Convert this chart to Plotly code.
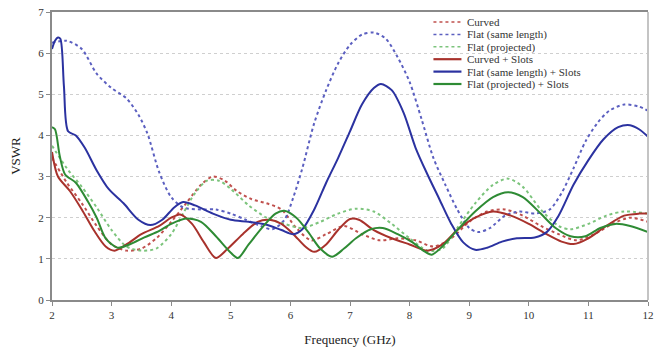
import plotly.graph_objects as go

# ---- Data ----
curved_f = [2.0, 2.25, 2.5, 2.75, 3.0, 3.25, 3.5, 3.75, 4.0, 4.25, 4.5, 4.7, 4.9, 5.1, 5.35, 5.6, 5.85,
            6.1, 6.35, 6.6, 6.9, 7.2, 7.5, 7.8, 8.1, 8.4, 8.7, 9.0, 9.3, 9.6, 9.9, 10.2, 10.5, 10.8,
            11.1, 11.4, 11.7, 12.0]
curved_v = [3.45, 2.85, 2.35, 1.8, 1.35, 1.2, 1.25, 1.5, 1.9, 2.35, 2.8, 3.0, 2.9, 2.65, 2.45, 2.35, 2.2,
            1.75, 1.45, 1.6, 1.8, 1.6, 1.45, 1.5, 1.45, 1.3, 1.5, 1.9, 2.15, 2.2, 2.05, 1.8, 1.6, 1.45,
            1.6, 1.85, 2.0, 1.9]

flat_same_f = [2.0, 2.25, 2.5, 2.75, 3.0, 3.25, 3.45, 3.6, 3.8, 4.0, 4.2, 4.5, 4.75, 5.0, 5.25, 5.5, 5.7,
               5.9, 6.05, 6.2, 6.4, 6.6, 6.8, 7.0, 7.2, 7.4, 7.6, 7.8, 8.0, 8.2, 8.4, 8.6, 8.8, 9.0,
               9.15, 9.35, 9.6, 9.85, 10.1, 10.35, 10.55, 10.75, 10.95, 11.15, 11.35, 11.6, 11.85, 12.0]
flat_same_v = [6.25, 6.3, 6.1, 5.5, 5.15, 4.9, 4.5, 4.05, 3.1, 2.5, 2.25, 2.2, 2.2, 2.1, 1.95, 1.8, 1.72,
               1.95, 2.5, 3.2, 4.3, 5.1, 5.75, 6.2, 6.45, 6.5, 6.35, 5.9, 5.3, 4.4, 3.45, 2.8, 2.2, 1.75,
               1.65, 1.75, 2.05, 2.15, 2.1, 2.2, 2.6, 3.2, 3.85, 4.3, 4.6, 4.75, 4.7, 4.6]

flat_proj_f = [2.0, 2.25, 2.5, 2.75, 3.0, 3.25, 3.5, 3.75, 4.0, 4.2, 4.4, 4.6, 4.8, 5.0, 5.3, 5.6, 5.9,
               6.2, 6.5, 6.8, 7.1, 7.4, 7.7, 8.0, 8.3, 8.55, 8.8, 9.1, 9.4, 9.65, 9.9, 10.2, 10.5, 10.7,
               11.0, 11.3, 11.6, 12.0]
flat_proj_v = [3.75, 3.2, 2.75, 2.25, 1.7, 1.3, 1.2, 1.25, 1.6, 2.1, 2.6, 2.9, 2.9, 2.7, 2.3, 2.0, 1.85,
               1.75, 1.9, 2.1, 2.22, 2.15, 1.85, 1.5, 1.2, 1.25, 1.75, 2.35, 2.8, 2.95, 2.75, 2.2, 1.8, 1.72,
               1.85, 2.05, 2.15, 2.1]

curved_slots_f = [2.0, 2.1, 2.3, 2.5, 2.7, 2.9, 3.05, 3.25, 3.5, 3.8, 4.0, 4.15, 4.35, 4.55, 4.75, 4.95,
                  5.2, 5.45, 5.65, 5.85, 6.05, 6.25, 6.4, 6.6, 6.8, 7.0, 7.15, 7.4, 7.7, 8.0, 8.3, 8.55,
                  8.8, 9.1, 9.4, 9.7, 10.0, 10.3, 10.55, 10.75, 11.0, 11.3, 11.6, 11.85, 12.0]
curved_slots_v = [3.6, 3.0, 2.65, 2.2, 1.7, 1.3, 1.2, 1.35, 1.6, 1.8, 2.0, 2.08, 1.85, 1.4, 1.02, 1.25,
                  1.6, 1.9, 1.95, 1.85, 1.6, 1.3, 1.17, 1.35, 1.7, 1.97, 1.95, 1.7, 1.5, 1.35, 1.2, 1.35,
                  1.7, 2.0, 2.15, 2.05, 1.85, 1.6, 1.42, 1.36, 1.5, 1.8, 2.05, 2.1, 2.1]

flat_same_slots_f = [2.0, 2.05, 2.1, 2.14, 2.2, 2.27, 2.4, 2.55, 2.75, 2.95, 3.2, 3.45, 3.65, 3.85, 4.05,
                     4.2, 4.4, 4.7, 5.0, 5.3, 5.6, 5.85, 6.05, 6.2, 6.4, 6.6, 6.8, 7.0, 7.2, 7.4, 7.52,
                     7.7, 7.9, 8.1, 8.3, 8.5, 8.7, 8.9, 9.1, 9.3, 9.55, 9.8, 10.1, 10.3, 10.5, 10.75, 11.0,
                     11.25, 11.5, 11.7, 11.85, 12.0]
flat_same_slots_v = [6.1, 6.3, 6.38, 6.35, 5.2, 4.1, 4.0, 3.7, 3.15, 2.7, 2.35, 1.95, 1.82, 1.95, 2.25,
                     2.38, 2.3, 2.1, 1.95, 1.9, 1.83, 1.7, 1.6, 1.72, 2.2, 2.85, 3.45, 4.1, 4.75, 5.15, 5.25,
                     5.1, 4.55, 3.7, 3.05, 2.45, 1.85, 1.4, 1.22, 1.27, 1.42, 1.5, 1.52, 1.65, 2.05, 2.8, 3.4,
                     3.9, 4.2, 4.25, 4.15, 3.97]

flat_proj_slots_f = [2.0, 2.05, 2.13, 2.22, 2.4, 2.6, 2.75, 2.9, 3.1, 3.3, 3.55, 3.8, 4.0, 4.25, 4.5, 4.75,
                     5.0, 5.12, 5.3, 5.55, 5.75, 5.9, 6.1, 6.3, 6.5, 6.7, 6.9, 7.1, 7.35, 7.55, 7.8, 8.05,
                     8.25, 8.37, 8.55, 8.8, 9.1, 9.4, 9.65, 9.9, 10.2, 10.45, 10.7, 10.95, 11.2, 11.45,
                     11.7, 12.0]
flat_proj_slots_v = [4.2, 4.15, 3.5, 3.05, 2.85, 2.4, 2.0, 1.5, 1.27, 1.35, 1.52, 1.68, 1.85, 1.98, 1.9, 1.55,
                     1.15, 1.02, 1.35, 1.8, 2.1, 2.17, 2.0, 1.65, 1.25, 1.05, 1.25, 1.5, 1.72, 1.75, 1.6, 1.4,
                     1.18, 1.1, 1.3, 1.7, 2.15, 2.5, 2.62, 2.5, 2.1, 1.75, 1.55, 1.55, 1.75, 1.85,
                     1.8, 1.65]

x_ticks = [2, 3, 4, 5, 6, 7, 8, 9, 10, 11, 12]
y_ticks = [0, 1, 2, 3, 4, 5, 6, 7]

series = [
    ("Curved", curved_f, curved_v, "#c0504d", "dot"),
    ("Flat (same length)", flat_same_f, flat_same_v, "#5b5fc0", "dot"),
    ("Flat (projected)", flat_proj_f, flat_proj_v, "#7cc47c", "dot"),
    ("Curved + Slots", curved_slots_f, curved_slots_v, "#a8322c", "solid"),
    ("Flat (same length) + Slots", flat_same_slots_f, flat_same_slots_v, "#2b32a0", "solid"),
    ("Flat (projected) + Slots", flat_proj_slots_f, flat_proj_slots_v, "#2e8b34", "solid"),
]

serif = "Liberation Serif, Times New Roman, Times, serif"

fig = go.Figure()
for name, fx, fv, col, dash in series:
    fig.add_trace(go.Scatter(
        x=fx, y=fv, name=name, mode="lines", showlegend=False,
        line=dict(color=col, width=2, dash=dash, shape="spline", smoothing=0.8),
    ))

# compact legend in paper space (top-right, inside the plot)
plot_h = 288.0
row = 12.4
first = 10.0  # px below plot top of the first legend row
for i, (name, fx, fv, col, dash) in enumerate(series):
    yp = 1 - (first + row * i) / plot_h
    fig.add_shape(type="line", xref="paper", yref="paper", x0=0.640, x1=0.687, y0=yp, y1=yp,
                  line=dict(color=col, width=1.5 if dash == "dot" else 2.2, dash=dash))
    fig.add_annotation(xref="paper", yref="paper", x=0.694, y=yp, text=name, showarrow=False,
                       xanchor="left", yanchor="middle", height=12, borderpad=0,
                       font=dict(family=serif, size=11, color="#333333"))

fig.update_layout(
    width=670, height=356,
    margin=dict(l=52, r=22, t=12, b=56),
    paper_bgcolor="white", plot_bgcolor="white",
    font=dict(family=serif, size=11, color="#333333"),
    showlegend=False,
    hovermode=False,
    xaxis=dict(range=[2, 12], tickvals=x_ticks, ticktext=[str(t) for t in x_ticks],
               showgrid=False, zeroline=False, showline=True, linecolor="#8a8a8a", linewidth=2,
               mirror=True, ticks="outside", ticklen=4, tickcolor="#8a8a8a", automargin=False,
               ticklabeloverflow="allow",
               tickfont=dict(family=serif, size=11, color="#333333"),
               title=dict(text="Frequency (GHz)", font=dict(family=serif, size=13, color="#222222"))),
    yaxis=dict(range=[0, 7], tickvals=y_ticks, ticktext=[str(t) for t in y_ticks],
               showgrid=True, gridcolor="#cfcfcf", griddash="dot", gridwidth=1,
               zeroline=False, showline=True, linecolor="#8a8a8a", linewidth=2,
               mirror=False, ticks="outside", ticklen=4, tickcolor="#8a8a8a", automargin=False,
               ticklabeloverflow="allow",
               tickfont=dict(family=serif, size=11, color="#333333"),
               title=dict(text="VSWR", font=dict(family=serif, size=13, color="#222222"))),
)
fig.add_shape(type="line", xref="paper", yref="paper", x0=1, x1=1, y0=0, y1=1,
              line=dict(color="#c4c4c4", width=2))

fig.write_html("out.html", config={"displayModeBar": False, "staticPlot": True},
               post_script="document.body.style.margin='0';document.body.style.overflow='hidden';")
